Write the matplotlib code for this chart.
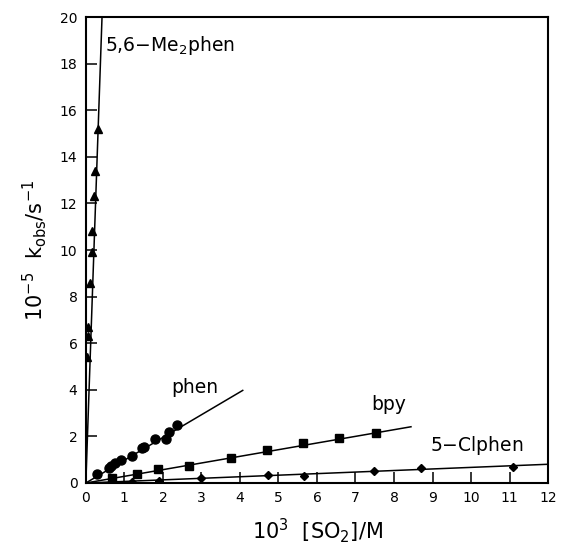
import numpy as np
import matplotlib
matplotlib.use("Agg")
import matplotlib.pyplot as plt

plt.rcParams['font.family'] = ['DejaVu Sans']
plt.rcParams['mathtext.fontset'] = 'dejavusans'

# 5,6-Me2phen (triangles)
me2_x = [0.03, 0.05, 0.06, 0.12, 0.15, 0.17, 0.21, 0.25, 0.32]
me2_y = [5.4, 6.3, 6.7, 8.6, 9.9, 10.8, 12.3, 13.4, 15.2]
# phen (circles)
phen_x = [0.29, 0.61, 0.65, 0.75, 0.91, 1.2, 1.45, 1.5, 1.79, 2.08, 2.16, 2.37]
phen_y = [0.39, 0.63, 0.72, 0.84, 0.97, 1.16, 1.5, 1.56, 1.88, 1.89, 2.17, 2.49]
# bpy (squares)
bpy_x = [0.67, 1.33, 1.88, 2.67, 3.76, 4.71, 5.65, 6.58, 7.53]
bpy_y = [0.2, 0.37, 0.6, 0.75, 1.07, 1.42, 1.7, 1.92, 2.13]
# 5-Clphen (diamonds)
cl_x = [1.19, 1.9, 3.0, 4.74, 5.66, 7.48, 8.69, 11.08]
cl_y = [0.06, 0.1, 0.2, 0.34, 0.31, 0.53, 0.63, 0.7]

# fitted lines through origin: slope and end of line
slopes = [47.6, 0.976, 0.286, 0.067]
line_end = [0.45, 4.09, 8.46, 12.0]

x_ticks = list(range(0, 13))
y_ticks = list(range(0, 21, 2))

fig = plt.figure(figsize=(5.61, 5.53), dpi=100)
ax = fig.add_axes([0.153, 0.1266, 0.824, 0.8424])

series = [
    (me2_x, me2_y, '^', 5.5),
    (phen_x, phen_y, 'o', 6.5),
    (bpy_x, bpy_y, 's', 5.5),
    (cl_x, cl_y, 'D', 4),
]
for (xs, ys, mk, ms), k, xe in zip(series, slopes, line_end):
    xl = np.array([0, xe])
    ax.plot(xl, k * xl, color='black', lw=1.1, solid_capstyle='butt')
    ax.plot(xs, ys, linestyle='none', marker=mk, ms=ms, color='black')

ax.text(0.5, 18.8, r'5,6$-$Me$_2$phen', fontsize=13.5, va='center', ha='left')
ax.text(2.23, 4.08, 'phen', fontsize=13.5, va='center', ha='left')
ax.text(7.42, 3.35, 'bpy', fontsize=13.5, va='center', ha='left')
ax.text(8.94, 1.63, r'5$-$Clphen', fontsize=13.5, va='center', ha='left')

ax.set_xlim(0, 12)
ax.set_ylim(0, 20)
ax.set_xticks(x_ticks)
ax.set_yticks(y_ticks)
ax.tick_params(direction='in', length=8, width=1.1, labelsize=10, pad=6)
for s in ax.spines.values():
    s.set_linewidth(1.5)

ax.set_xlabel(r'10$^3$  [SO$_2$]/M', fontsize=15, labelpad=8)
ax.set_ylabel(r'10$^{-5}$  k$_{\rm obs}$/s$^{-1}$', fontsize=15, labelpad=8)

fig.savefig('out.png', dpi=100)
